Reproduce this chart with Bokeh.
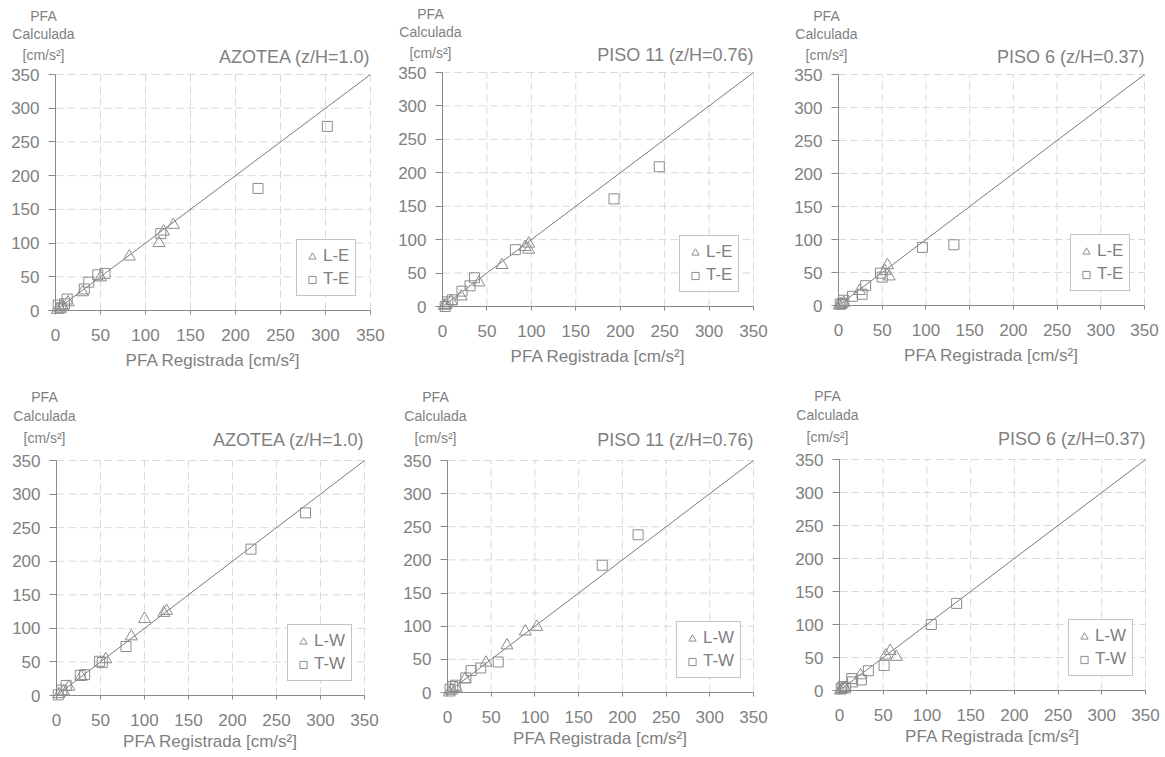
from bokeh.plotting import figure
from bokeh.models import Range1d, FixedTicker, Label, Legend, LegendItem, LinearAxis
from bokeh.layouts import column, row
from bokeh.embed import file_html
from bokeh.resources import INLINE

# ---------------- data ----------------
ticks = [0, 50, 100, 150, 200, 250, 300, 350]
diag = [0, 350]

# AZOTEA  E
az_LE_x = [2, 5, 8, 14, 30, 50, 82, 115, 120, 131]
az_LE_y = [1, 3, 6, 12, 27, 49, 80, 100, 117, 127]
az_TE_x = [3, 6, 10, 13, 32, 37, 47, 55, 117, 225, 302]
az_TE_y = [8, 4, 10, 17, 32, 42, 53, 55, 114, 181, 273]
# PISO 11 E
p11_LE_x = [2, 4, 10, 21, 41, 67, 93, 97, 97]
p11_LE_y = [1, 2, 8, 15, 36, 62, 89, 94, 85]
p11_TE_x = [3, 6, 11, 22, 31, 36, 82, 193, 244]
p11_TE_y = [0, 7, 10, 23, 31, 43, 85, 161, 209]
# PISO 6 E
p6_LE_x = [1, 3, 6, 24, 53, 56, 58]
p6_LE_y = [0, 2, 4, 22, 52, 61, 44]
p6_TE_x = [2, 4, 6, 16, 27, 31, 48, 50, 96, 132]
p6_TE_y = [2, 3, 8, 14, 17, 30, 49, 43, 88, 92]
# AZOTEA W
az_LW_x = [3, 8, 14, 28, 56, 85, 100, 122, 125]
az_LW_y = [2, 6, 13, 28, 54, 88, 114, 123, 126]
az_TW_x = [2, 6, 11, 27, 32, 49, 52, 79, 221, 283]
az_TW_y = [1, 8, 15, 30, 31, 51, 49, 73, 218, 272]
# PISO 11 W
p11_LW_x = [2, 5, 10, 20, 44, 68, 89, 102]
p11_LW_y = [0, 3, 7, 20, 45, 71, 92, 99]
p11_TW_x = [3, 6, 9, 21, 27, 38, 58, 177, 218]
p11_TW_y = [5, 9, 11, 22, 33, 37, 46, 192, 238]
# PISO 6 W
p6_LW_x = [1, 3, 6, 24, 53, 58, 65]
p6_LW_y = [0, 2, 4, 23, 53, 60, 51]
p6_TW_x = [2, 4, 7, 14, 15, 25, 33, 51, 105, 134]
p6_TW_y = [3, 6, 4, 18, 13, 16, 30, 38, 100, 132]

titles = ["AZOTEA (z/H=1.0)", "PISO 11 (z/H=0.76)", "PISO 6 (z/H=0.37)"]
x_label = "PFA Registrada [cm/s²]"
y_label_lines = ["PFA", "Calculada", "[cm/s²]"]

FONT = "Liberation Sans"
TXT = "#7f7f7f"
AX = "#8a8a8a"
MK = "#8c8c8c"
GRID = "#d9d9d9"
VMAX = 350.0


def panel(Lx, Ly, Tx, Ty, names, title, W, H, L, fw, T, fh,
          ylab_off, title_off, xlab_off, leg_w, leg_r):
    R = W - L - fw
    B = H - T - fh
    kx = VMAX / fw
    ky = VMAX / fh
    p = figure(width=W, height=H, output_backend="svg", toolbar_location=None,
               x_range=Range1d(-L * kx, VMAX + R * kx),
               y_range=Range1d(-B * ky, VMAX + T * ky),
               x_axis_location=None, y_axis_location=None, min_border=0)
    p.outline_line_color = None
    p.background_fill_color = "white"
    p.border_fill_color = "white"
    p.xgrid.visible = False
    p.ygrid.visible = False

    # dashed grid limited to the 0..350 square
    g_lo = [0] * len(ticks)
    g_hi = [VMAX] * len(ticks)
    p.segment(x0=ticks[1:], y0=g_lo[1:], x1=ticks[1:], y1=g_hi[1:],
              line_color=GRID, line_width=1, line_dash="8 4")
    p.segment(x0=g_lo[1:], y0=ticks[1:], x1=g_hi[1:], y1=ticks[1:],
              line_color=GRID, line_width=1, line_dash="8 4")

    xa = LinearAxis(fixed_location=0, bounds=(0, VMAX))
    ya = LinearAxis(fixed_location=0, bounds=(0, VMAX))
    for ax in (xa, ya):
        ax.ticker = FixedTicker(ticks=ticks)
        ax.axis_line_color = AX
        ax.major_tick_line_color = AX
        ax.minor_tick_line_color = None
        ax.major_tick_in = 0
        ax.major_label_text_font = FONT
        ax.major_label_text_font_size = "17px"
        ax.major_label_text_color = TXT
    xa.major_tick_out = 4
    ya.major_tick_out = 7
    xa.major_label_standoff = 14
    ya.major_label_standoff = 9
    p.add_layout(xa, "below")
    p.add_layout(ya, "left")

    p.line(diag, diag, line_color="#7a7a7a", line_width=1)
    r1 = p.scatter(Lx, Ly, marker="triangle", size=12, fill_color=None,
                   line_color=MK, line_width=1)
    r2 = p.scatter(Tx, Ty, marker="square", size=10, fill_color=None,
                   line_color=MK, line_width=1)

    leg = Legend(items=[LegendItem(label=names[0], renderers=[r1]),
                        LegendItem(label=names[1], renderers=[r2])],
                 location=(L + fw - leg_r - leg_w, B + 14), margin=0, padding=6,
                 spacing=3, glyph_width=18, glyph_height=19, label_height=19,
                 label_standoff=2,
                 label_text_font=FONT, label_text_font_size="17px",
                 label_text_color=TXT, border_line_color=AX,
                 border_line_width=1, background_fill_alpha=1.0)
    p.add_layout(leg)

    for txt, off in zip(y_label_lines, ylab_off):
        p.add_layout(Label(x=0, y=VMAX, x_offset=-12, y_offset=off, text=txt,
                           text_align="center", text_baseline="alphabetic",
                           text_font=FONT, text_font_size="14px", text_color=TXT))
    p.add_layout(Label(x=VMAX, y=VMAX, y_offset=title_off, text=title,
                       text_align="right", text_baseline="alphabetic",
                       text_font=FONT, text_font_size="18px", text_color=TXT))
    p.add_layout(Label(x=VMAX / 2, y=0, y_offset=-xlab_off, text=x_label,
                       text_align="center", text_baseline="alphabetic",
                       text_font=FONT, text_font_size="17px", text_color=TXT))
    return p


top_off = [59, 41, 20]
bot_off = [64, 45, 23]

f1 = panel(az_LE_x, az_LE_y, az_TE_x, az_TE_y, ["L-E", "T-E"], titles[0],
           395, 388, 55, 315, 74, 236, top_off, 18, 50, 60, 14)
f2 = panel(p11_LE_x, p11_LE_y, p11_TE_x, p11_TE_y, ["L-E", "T-E"], titles[1],
           395, 388, 47, 311, 72, 234, top_off, 18, 50, 60, 14)
f3 = panel(p6_LE_x, p6_LE_y, p6_TE_x, p6_TE_y, ["L-E", "T-E"], titles[2],
           375, 388, 48, 306, 74, 231, top_off, 18, 50, 60, 14)

f4 = panel(az_LW_x, az_LW_y, az_TW_x, az_TW_y, ["L-W", "T-W"], titles[0],
           395, 369, 56, 308, 72, 235, bot_off, 21, 46, 65, 12)
f5 = panel(p11_LW_x, p11_LW_y, p11_TW_x, p11_TW_y, ["L-W", "T-W"], titles[1],
           395, 369, 52, 306, 72, 232, bot_off, 21, 46, 65, 12)
f6 = panel(p6_LW_x, p6_LW_y, p6_TW_x, p6_TW_y, ["L-W", "T-W"], titles[2],
           375, 369, 49, 306, 71, 231, bot_off, 21, 46, 65, 12)

layout = column(row(f1, f2, f3, spacing=0), row(f4, f5, f6, spacing=0), spacing=0)

open("out.html", "w").write(file_html(layout, INLINE))
